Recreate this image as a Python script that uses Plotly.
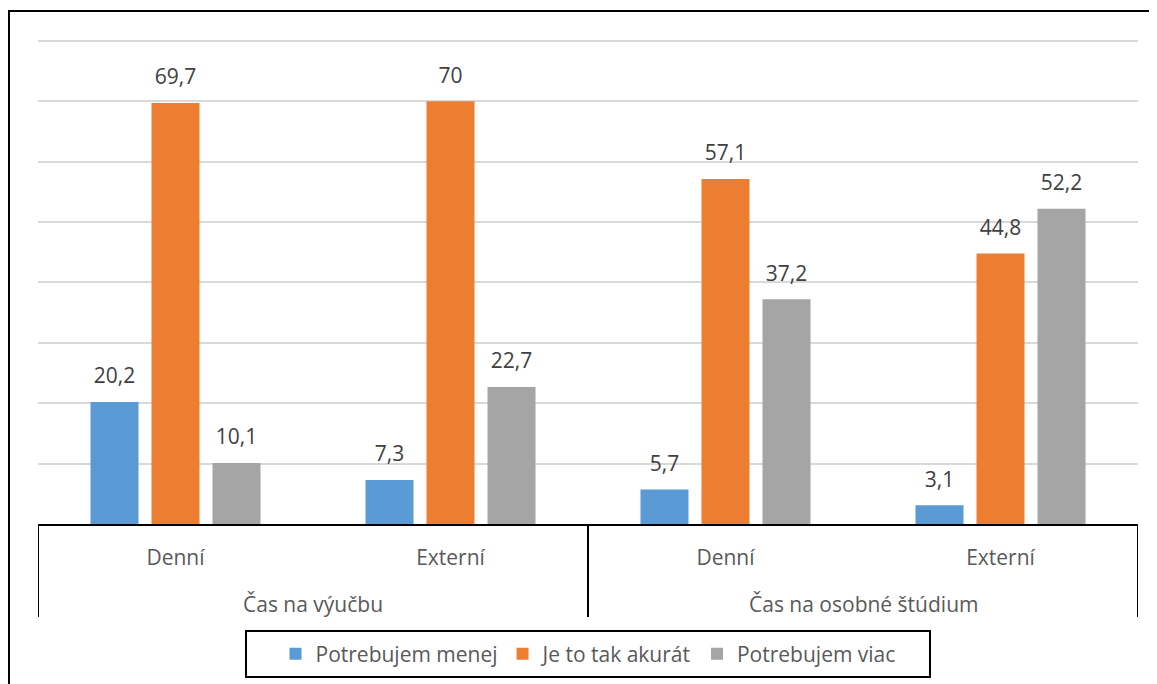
import plotly.graph_objects as go

# inner / outer category labels
groups = ["Čas na výučbu", "Čas na osobné štúdium"]
forms = ["Denní", "Externí", "Denní", "Externí"]

series_names = ["Potrebujem menej", "Je to tak akurát", "Potrebujem viac"]
menej = [20.2, 7.3, 5.7, 3.1]
akurat = [69.7, 70, 57.1, 44.8]
viac = [10.1, 22.7, 37.2, 52.2]
colors = ["#5B9BD5", "#ED7D31", "#A5A5A5"]

FONT = "Open Sans"
LABEL_PAD = 1.6  # in value units, lifts the data labels off the bars
x_idx = list(range(len(forms)))


def fmt(v):
    return f"{v:g}".replace(".", ",")


fig = go.Figure()
for k, (name, vals, col) in enumerate(zip(series_names, [menej, akurat, viac], colors)):
    fig.add_trace(go.Bar(
        x=x_idx, y=vals, name=name, marker_color=col, marker_line_width=0,
        offsetgroup=str(k),
    ))
    # transparent spacer bar sitting on top of each bar, carries the label
    fig.add_trace(go.Bar(
        x=x_idx, y=[LABEL_PAD] * len(vals), base=vals, offsetgroup=str(k),
        marker_color="rgba(0,0,0,0)", marker_line_width=0,
        showlegend=False, hoverinfo="skip",
        text=[fmt(v) for v in vals], textposition="outside",
        textfont=dict(size=21, color="#404040", family=FONT),
        cliponaxis=False,
    ))

fig.update_layout(
    width=1149, height=676,
    margin=dict(l=30, r=19, t=31, b=160, autoexpand=False),
    plot_bgcolor="white", paper_bgcolor="white",
    barmode="group", bargap=0.3345, bargroupgap=0.213,
    font=dict(family=FONT, size=21, color="#595959"),
    showlegend=True,
    legend=dict(
        orientation="h", x=0.5, xanchor="center", y=-0.268, yanchor="middle",
        borderwidth=0, font=dict(size=21, color="#595959"),
        traceorder="normal", bgcolor="rgba(0,0,0,0)",
    ),
)
fig.update_xaxes(
    range=[-0.5, len(forms) - 0.5], tickvals=x_idx, ticktext=forms,
    showgrid=False, zeroline=False, showline=True, linecolor="black", linewidth=2,
    ticks="", ticklabelstandoff=14, tickfont=dict(size=21, color="#595959"),
)
fig.update_yaxes(
    range=[0, 80.3], tickvals=[10, 20, 30, 40, 50, 60, 70, 80], showticklabels=False,
    showgrid=True, gridcolor="#D9D9D9", gridwidth=1.5, zeroline=False, showline=False,
)

# group dividers below the axis
for xb in [-0.5, 1.5, 3.5]:
    fig.add_shape(type="line", xref="x", yref="paper", x0=xb, x1=xb, y0=0, y1=-0.1918,
                  line=dict(color="black", width=2))

# outer group labels
for i, g in enumerate(groups):
    fig.add_annotation(x=2 * i + 0.5, xref="x", y=-0.165, yref="paper", text=g,
                       showarrow=False, yanchor="middle",
                       font=dict(size=21, color="#595959", family=FONT))

# legend box
fig.add_shape(type="rect", xref="paper", yref="paper", x0=0.1891, x1=0.8109, y0=-0.3155, y1=-0.2206,
              line=dict(color="black", width=2))

# outer chart frame
fig.add_shape(type="rect", xref="paper", yref="paper", x0=-0.0264, x1=1.2, y0=-0.5, y1=1.0577,
              line=dict(color="black", width=2), layer="below")

fig.write_html("out.html")
